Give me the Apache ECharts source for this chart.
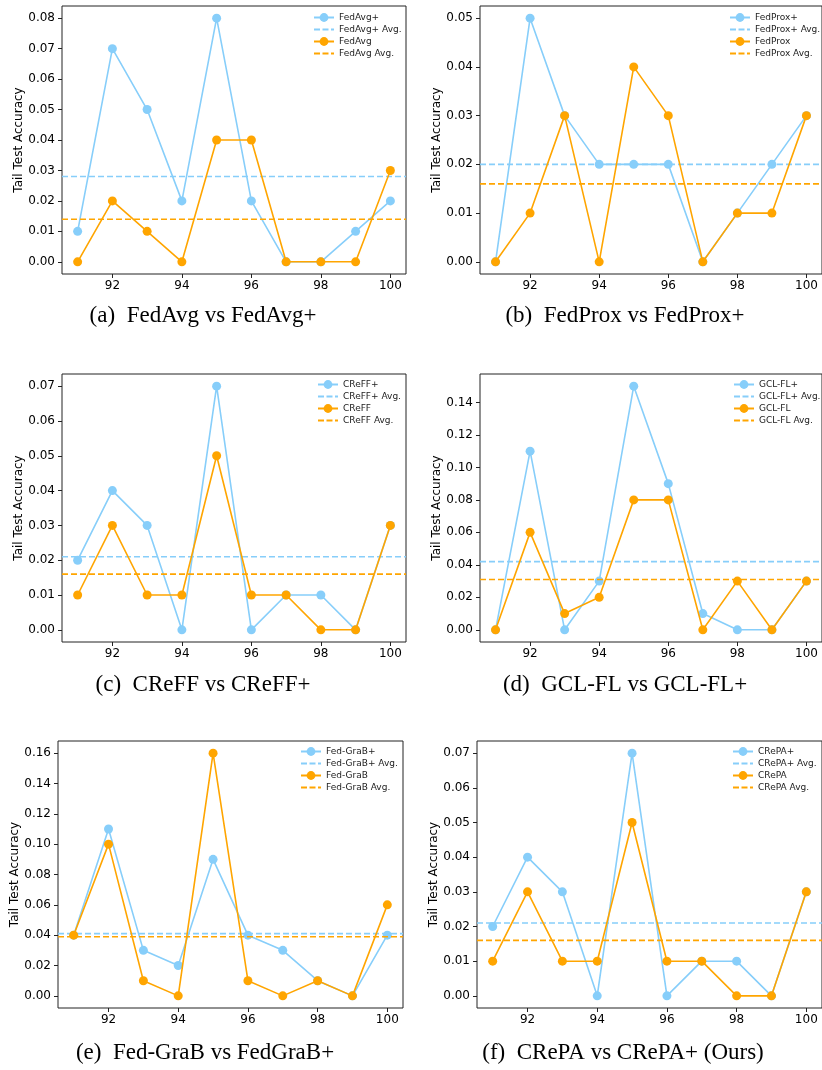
<!DOCTYPE html>
<html>
<head>
<meta charset="utf-8">
<script src="https://cdn.jsdelivr.net/npm/echarts@6/dist/echarts.min.js"></script>
<style>
  body { margin: 0; background: #fff; }
  #main { width: 822px; height: 1070px; }
</style>
</head>
<body>
<div id="main"></div>
<script>
// rounds on the x axis
var rounds = [91, 92, 93, 94, 95, 96, 97, 98, 99, 100];
var xTicks = [92, 94, 96, 98, 100];

// (a)
var fedAvgPlus = [0.01, 0.07, 0.05, 0.02, 0.08, 0.02, 0.00, 0.00, 0.01, 0.02];
var fedAvg     = [0.00, 0.02, 0.01, 0.00, 0.04, 0.04, 0.00, 0.00, 0.00, 0.03];
var fedAvgPlusMean = 0.028, fedAvgMean = 0.014;
var yTicksA = [0, 0.01, 0.02, 0.03, 0.04, 0.05, 0.06, 0.07, 0.08];

// (b)
var fedProxPlus = [0.00, 0.05, 0.03, 0.02, 0.02, 0.02, 0.00, 0.01, 0.02, 0.03];
var fedProx     = [0.00, 0.01, 0.03, 0.00, 0.04, 0.03, 0.00, 0.01, 0.01, 0.03];
var fedProxPlusMean = 0.020, fedProxMean = 0.016;
var yTicksB = [0, 0.01, 0.02, 0.03, 0.04, 0.05];

// (c)
var creffPlus = [0.02, 0.04, 0.03, 0.00, 0.07, 0.00, 0.01, 0.01, 0.00, 0.03];
var creff     = [0.01, 0.03, 0.01, 0.01, 0.05, 0.01, 0.01, 0.00, 0.00, 0.03];
var creffPlusMean = 0.021, creffMean = 0.016;
var yTicksC = [0, 0.01, 0.02, 0.03, 0.04, 0.05, 0.06, 0.07];

// (d)
var gclPlus = [0.00, 0.11, 0.00, 0.03, 0.15, 0.09, 0.01, 0.00, 0.00, 0.03];
var gcl     = [0.00, 0.06, 0.01, 0.02, 0.08, 0.08, 0.00, 0.03, 0.00, 0.03];
var gclPlusMean = 0.042, gclMean = 0.031;
var yTicksD = [0, 0.02, 0.04, 0.06, 0.08, 0.10, 0.12, 0.14];

// (e)
var grabPlus = [0.04, 0.11, 0.03, 0.02, 0.09, 0.04, 0.03, 0.01, 0.00, 0.04];
var grab     = [0.04, 0.10, 0.01, 0.00, 0.16, 0.01, 0.00, 0.01, 0.00, 0.06];
var grabPlusMean = 0.041, grabMean = 0.039;
var yTicksE = [0, 0.02, 0.04, 0.06, 0.08, 0.10, 0.12, 0.14, 0.16];

// (f)
var crepaPlus = [0.02, 0.04, 0.03, 0.00, 0.07, 0.00, 0.01, 0.01, 0.00, 0.03];
var crepa     = [0.01, 0.03, 0.01, 0.01, 0.05, 0.01, 0.01, 0.00, 0.00, 0.03];
var crepaPlusMean = 0.021, crepaMean = 0.016;
var yTicksF = [0, 0.01, 0.02, 0.03, 0.04, 0.05, 0.06, 0.07];

var panels = [
  {plus: 'FedAvg+', base: 'FedAvg', plusData: fedAvgPlus, baseData: fedAvg, plusMean: fedAvgPlusMean, baseMean: fedAvgMean, ticks: yTicksA, yMin: -0.004, yMax: 0.084, caption: '(a)  FedAvg vs FedAvg+'},
  {plus: 'FedProx+', base: 'FedProx', plusData: fedProxPlus, baseData: fedProx, plusMean: fedProxPlusMean, baseMean: fedProxMean, ticks: yTicksB, yMin: -0.0025, yMax: 0.0525, caption: '(b)  FedProx vs FedProx+'},
  {plus: 'CReFF+', base: 'CReFF', plusData: creffPlus, baseData: creff, plusMean: creffPlusMean, baseMean: creffMean, ticks: yTicksC, yMin: -0.0035, yMax: 0.0735, caption: '(c)  CReFF vs CReFF+'},
  {plus: 'GCL-FL+', base: 'GCL-FL', plusData: gclPlus, baseData: gcl, plusMean: gclPlusMean, baseMean: gclMean, ticks: yTicksD, yMin: -0.0075, yMax: 0.1575, caption: '(d)  GCL-FL vs GCL-FL+'},
  {plus: 'Fed-GraB+', base: 'Fed-GraB', plusData: grabPlus, baseData: grab, plusMean: grabPlusMean, baseMean: grabMean, ticks: yTicksE, yMin: -0.008, yMax: 0.168, caption: '(e)  Fed-GraB vs FedGraB+'},
  {plus: 'CRePA+', base: 'CRePA', plusData: crepaPlus, baseData: crepa, plusMean: crepaPlusMean, baseMean: crepaMean, ticks: yTicksF, yMin: -0.0035, yMax: 0.0735, caption: '(f)  CRePA vs CRePA+ (Ours)'}
];

// layout of each subplot: grid box, legend anchor, caption centre
var layout = [
  {left: 62,  top: 6,   width: 344, height: 268, legLeft: 313, legTop: 13, capX: 203, capY: 316},
  {left: 480, top: 6,   width: 345, height: 268, legLeft: 729, legTop: 13, capX: 625, capY: 316},
  {left: 62,  top: 374, width: 344, height: 268, legLeft: 317, legTop: 380, capX: 203, capY: 685},
  {left: 480, top: 374, width: 345, height: 268, legLeft: 733, legTop: 380, capX: 625, capY: 685},
  {left: 58,  top: 741, width: 345, height: 267, legLeft: 300, legTop: 747, capX: 205, capY: 1053},
  {left: 477, top: 741, width: 345, height: 267, legLeft: 732, legTop: 747, capX: 623, capY: 1053}
];

var BLUE = '#87CEFA', ORANGE = '#FFA500';
var X_MIN = 90.55, X_MAX = 100.45;
var dashIcon = 'path://M0,0h0.01v0.01h-0.01z M0,11h0.01v0.01h-0.01z M0,4.6h6v1.8h-6z M8.5,4.6h6v1.8h-6z M17,4.6h3v1.8h-3z';

var chartDom = document.getElementById('main');
var myChart = echarts.init(chartDom);

var grids = [], xAxes = [], yAxes = [], series = [], legends = [], graphics = [];

panels.forEach(function (p, i) {
  var L = layout[i];
  grids.push({
    left: L.left, top: L.top, width: L.width, height: L.height,
    show: true, borderColor: '#222', borderWidth: 1, backgroundColor: 'transparent'
  });
  xAxes.push({
    type: 'value', gridIndex: i, min: X_MIN, max: X_MAX, position: 'bottom',
    axisLine: {show: false, onZero: false},
    splitLine: {show: false},
    axisTick: {show: true, length: 4, lineStyle: {color: '#222'}, customValues: xTicks},
    axisLabel: {customValues: xTicks, margin: 6, color: '#000', fontSize: 12, fontFamily: 'DejaVu Sans'}
  });
  yAxes.push({
    type: 'value', gridIndex: i, min: p.yMin, max: p.yMax, position: 'left',
    name: 'Tail Test Accuracy', nameLocation: 'middle', nameGap: 36,
    nameTextStyle: {color: '#000', fontSize: 12, fontFamily: 'DejaVu Sans'},
    axisLine: {show: false, onZero: false},
    splitLine: {show: false},
    axisTick: {show: true, length: 4, lineStyle: {color: '#222'}, customValues: p.ticks},
    axisLabel: {
      customValues: p.ticks, margin: 7, color: '#000', fontSize: 12, fontFamily: 'DejaVu Sans',
      formatter: function (v) { return v.toFixed(2); }
    }
  });

  var pts = function (arr) { return rounds.map(function (r, k) { return [r, arr[k]]; }); };
  var flat = function (m) { return [[X_MIN, m], [X_MAX, m]]; };

  series.push({
    name: p.plus, type: 'line', xAxisIndex: i, yAxisIndex: i, data: pts(p.plusData),
    symbol: 'circle', symbolSize: 9, color: BLUE,
    lineStyle: {width: 1.6, color: BLUE}, itemStyle: {color: BLUE}, z: 2
  });
  series.push({
    name: p.plus + ' Avg.', type: 'line', xAxisIndex: i, yAxisIndex: i, data: flat(p.plusMean),
    symbol: 'none', color: BLUE,
    lineStyle: {width: 1.6, color: BLUE, type: [6, 3]}, z: 2
  });
  series.push({
    name: p.base, type: 'line', xAxisIndex: i, yAxisIndex: i, data: pts(p.baseData),
    symbol: 'circle', symbolSize: 9, color: ORANGE,
    lineStyle: {width: 1.6, color: ORANGE}, itemStyle: {color: ORANGE}, z: 3
  });
  series.push({
    name: p.base + ' Avg.', type: 'line', xAxisIndex: i, yAxisIndex: i, data: flat(p.baseMean),
    symbol: 'none', color: ORANGE,
    lineStyle: {width: 1.6, color: ORANGE, type: [6, 3]}, z: 3
  });

  legends.push({
    orient: 'vertical', left: L.legLeft, top: L.legTop, padding: 0,
    itemWidth: 20, itemHeight: 11, itemGap: 2,
    textStyle: {fontSize: 9, color: '#222', fontFamily: 'DejaVu Sans'},
    data: [
      {name: p.plus},
      {name: p.plus + ' Avg.', icon: dashIcon},
      {name: p.base},
      {name: p.base + ' Avg.', icon: dashIcon}
    ]
  });

  graphics.push({
    type: 'text', x: L.capX, y: L.capY,
    style: {
      text: p.caption, align: 'center', verticalAlign: 'middle',
      textAlign: 'center', textVerticalAlign: 'middle',
      font: '23px "Liberation Serif"', fill: '#000'
    }
  });
});

var option = {
  backgroundColor: '#fff',
  animation: false,
  grid: grids,
  xAxis: xAxes,
  yAxis: yAxes,
  legend: legends,
  series: series,
  graphic: graphics
};

option && myChart.setOption(option);
</script>
</body>
</html>
